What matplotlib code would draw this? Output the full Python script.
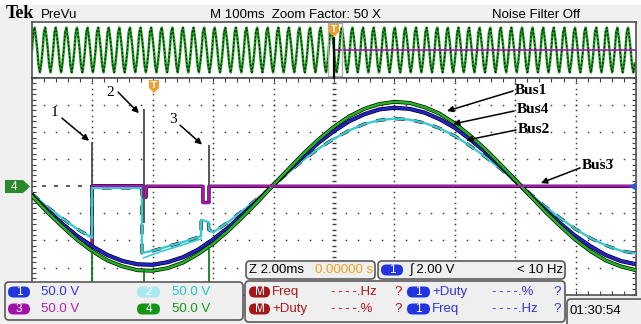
import matplotlib
matplotlib.use("Agg")
import matplotlib.pyplot as plt
from matplotlib.patches import FancyBboxPatch, Polygon, Rectangle
import numpy as np

# zoomed window: 2 ms/div, 50 V/div
time_ms = [0.0, 0.5, 1.0, 1.5, 2.0, 2.5, 3.0, 3.5, 4.0, 4.5, 5.0, 5.5, 6.0, 6.5,
           7.0, 7.5, 8.0, 8.5, 9.0, 9.5, 10.0, 10.5, 11.0, 11.5, 12.0, 12.5, 13.0,
           13.5, 14.0, 14.5, 15.0, 15.5, 16.0, 16.5, 17.0, 17.5, 18.0, 18.5, 19.0,
           19.5, 20.0]
bus1_v = [-18, -47, -74, -99, -120, -137, -148, -155, -156, -151, -141, -125, -106,
          -82, -55, -27, 3, 32, 61, 87, 110, 129, 143, 152, 156, 154, 146, 134, 116,
          94, 69, 41, 12, -18, -47, -74, -99, -120, -137, -148, -155]
bus4_v = [-17, -44, -69, -92, -111, -127, -138, -144, -145, -140, -131, -117, -98,
          -76, -51, -25, 3, 30, 56, 81, 102, 120, 133, 142, 145, 143, 136, 124, 108,
          87, 64, 38, 11, -17, -44, -69, -92, -111, -127, -138, -144]
bus2_t = [0.0, 0.5, 1.0, 1.5, 1.99, 1.99, 3.64, 3.64, 4.0, 4.5, 5.0, 5.6, 5.6, 5.85,
          5.85, 6.0, 6.5, 7.0, 7.5, 8.0, 8.5, 9.0, 9.5, 10.0, 10.5, 11.0, 11.5, 12.0,
          12.5, 13.0, 13.5, 14.0, 14.5, 15.0, 15.5, 16.0, 16.5, 17.0, 17.5, 18.0,
          18.5, 19.0, 19.5, 20.0]
bus2_v = [-14, -38, -59, -79, -95, -3, -3, -123, -119, -111, -103, -92, -62, -66,
          -80, -85, -66, -44, -21, 2, 26, 49, 70, 88, 103, 115, 122, 125, 123, 117,
          107, 93, 75, 55, 33, 9, -14, -38, -59, -79, -96, -109, -119, -124]
bus2_echo_t = [3.7, 4.3, 5.0, 5.6]
bus2_echo_v = [-132, -120, -108, -97]
bus3_t = [0.0, 0.5, 1.0, 1.5, 1.99, 1.99, 3.68, 3.68, 3.78, 3.78, 5.66, 5.66, 5.86,
          5.86, 20.0]
bus3_v = [-16, -43, -69, -92, -110, 1, 1, -20, -20, 0, 0, -30, -30, 0, 0]

spike_t = [1.99, 3.71, 5.86]
spike_top = [81, 142, 77]
spike_bottom = [0, -67, 0]
bus1_spike_top = [-120, -153, -112]
bus1_spike_bottom = [-178, -178, -200]

# one period of the compressed record in the top strip, repeated over the record
strip_cycle = [0.0, 0.8, 1.0, 0.55, 0.0, -0.7, -1.0, -0.6]
strip_cycles = 57

GREEN = "#22b522"
BLUE = "#2222cc"
CYAN = "#3cc8cf"
MAGENTA = "#b010bb"
EDGE = "#505050"
UI_FONT = ["Liberation Sans Narrow", "Liberation Sans", "DejaVu Sans"]
SERIF = ["Liberation Serif", "DejaVu Serif"]
NO_VALUE = "-\u2009-\u2009-\u2009-"

fig = plt.figure(figsize=(6.41, 3.24), dpi=100)
fig.patch.set_facecolor("#f0f0f0")

# ---- top record strip
ax_s = fig.add_axes([32 / 641, 1 - 78 / 324, 604 / 641, 56 / 324])
ax_s.set_facecolor("white")
strip_y = np.tile(strip_cycle, strip_cycles)
strip_x = np.arange(len(strip_y)) / len(strip_cycle)
ax_s.plot(strip_x, strip_y, color="#1e9e1e", lw=1.8)
ax_s.plot(strip_x, strip_y, color="black", lw=0.8, ls=(0, (1.5, 2)))
ax_s.plot([strip_cycles / 2, strip_cycles], [0, 0], color=MAGENTA, lw=1.2)
ax_s.set_xlim(0, strip_cycles)
ax_s.set_ylim(-1.25, 1.25)
ax_s.set_xticks([])
ax_s.set_yticks([])
for sp in ax_s.spines.values():
    sp.set_color(EDGE)
    sp.set_linewidth(1.2)

# ---- main zoomed window
ax = fig.add_axes([32 / 641, 1 - 294.6 / 324, 604 / 641, 216.6 / 324])
ax.set_facecolor("white")
ax.set_xlim(0, 20)
ax.set_ylim(-200, 200)
ax.set_xticks(np.arange(0, 20.01, 0.4))
ax.set_yticks(np.arange(-200, 201, 10))
ax.tick_params(direction="in", length=3, width=0.8, color="#404040",
               top=True, bottom=True, left=True, right=True,
               labelbottom=False, labelleft=False)
for sp in ax.spines.values():
    sp.set_color(EDGE)
    sp.set_linewidth(1.2)

dot_v = np.arange(-190, 191, 10)
dot_t = np.arange(0.4, 20, 0.4)
for tx in [2, 4, 6, 8, 12, 14, 16, 18]:
    ax.plot(np.full(len(dot_v), tx), dot_v, ls="none", marker="s", ms=1.1,
            mew=0, color="#404040", zorder=1)
for vy in [-150, -100, -50, 50, 100, 150]:
    ax.plot(dot_t, np.full(len(dot_t), vy), ls="none", marker="s", ms=1.1,
            mew=0, color="#404040", zorder=1)
ax.plot(dot_t, np.zeros(len(dot_t)), ls="none", marker="_", ms=3, mew=1.2,
        color="#404040", zorder=1)
ax.plot(np.full(len(dot_v), 10), dot_v, ls="none", marker="_", ms=3.5, mew=1.0,
        color="#404040", zorder=1)

# traces: each one carries a dark persistence edge
ax.plot(bus3_t, bus3_v, color="black", lw=2.4, zorder=2)
ax.plot(bus3_t, bus3_v, color=MAGENTA, lw=1.6, zorder=2.1)
ax.plot(bus2_echo_t, bus2_echo_v, color=CYAN, lw=1.2, zorder=3)
ax.plot(bus2_t, bus2_v, color="black", lw=2.3, ls=(0, (3, 3)), zorder=3)
ax.plot(bus2_t, bus2_v, color=CYAN, lw=1.7, zorder=3.1)
ax.plot(time_ms, bus4_v, color="black", lw=3.0, zorder=4)
ax.plot(time_ms, bus4_v, color=BLUE, lw=2.0, zorder=4.1)
ax.plot(time_ms, bus1_v, color="black", lw=2.8, zorder=5)
ax.plot(time_ms, bus1_v, color=GREEN, lw=1.8, zorder=5.1)
ax.plot(bus3_t[5:], bus3_v[5:], color=MAGENTA, lw=1.5, zorder=6)
ax.vlines(spike_t, spike_bottom, spike_top, color="#4a4a4a", lw=1.3, zorder=7)
ax.vlines(spike_t, bus1_spike_bottom, bus1_spike_top, color="#1a7a1a", lw=1.3, zorder=7)

arrow = dict(arrowstyle="-|>", color="black", lw=1.1, mutation_scale=9,
             shrinkA=0, shrinkB=0)
for lab, (tx, ty), tail, head in [
        ("1", (0.76, 137), (0.99, 126), (1.89, 84)),
        ("2", (2.58, 174), (2.85, 174), (3.54, 135)),
        ("3", (4.67, 124), (4.90, 113), (5.63, 77))]:
    ax.text(tx, ty, lab, fontsize=11, family=SERIF, ha="center", va="center", zorder=8)
    ax.annotate("", xy=head, xytext=tail, arrowprops=arrow, zorder=8)

for lab, pos, tail, head in [
        ("Bus1", (15.99, 177), (15.93, 176), (13.74, 139)),
        ("Bus4", (16.06, 141), (15.96, 139), (13.94, 115)),
        ("Bus2", (16.09, 104), (16.03, 104), (14.37, 85)),
        ("Bus3", (18.21, 39), (18.15, 34), (16.85, 6))]:
    ax.text(pos[0], pos[1], lab, fontsize=11, family=SERIF, weight="bold",
            ha="left", va="center", zorder=8)
    ax.annotate("", xy=head, xytext=tail, arrowprops=arrow, zorder=8)

# ---- screen furniture in pixel coordinates
ov = fig.add_axes([0, 0, 1, 1], zorder=10)
ov.set_xlim(0, 641)
ov.set_ylim(324, 0)
ov.axis("off")
ov.patch.set_alpha(0)

ov.add_patch(Rectangle((0, 0), 641, 5, fc="white", ec="none"))
ov.text(6, 14, "Tek", family=SERIF, weight="bold", fontsize=13, va="center")
ov.text(41, 14.5, "PreVu", family=UI_FONT, fontsize=9.5, va="center")
ov.text(210, 14.5, "M 100ms  Zoom Factor: 50 X", family=UI_FONT, fontsize=9.5, va="center")
ov.text(492, 14.5, "Noise Filter Off", family=UI_FONT, fontsize=9.5, va="center")

# zoom window and trigger markers
ov.add_patch(Rectangle((328, 23), 14, 53, fc="none", ec="#b0b0b0", lw=1))
ov.plot([334, 334], [38, 78], color="black", lw=1.6)
for (mx, my) in [(334, 24), (154, 80)]:
    ov.add_patch(Polygon([(mx - 5, my), (mx + 5, my), (mx + 5, my + 8),
                          (mx, my + 13), (mx - 5, my + 8)],
                         fc="#f0a030", ec="none"))
    ov.text(mx, my + 6, "T", color="white", fontsize=6, weight="bold",
            ha="center", va="center")

ov.add_patch(Polygon([(5, 180), (23, 180), (30, 186.5), (23, 193), (5, 193)],
                     fc="#2a8a2a", ec="none"))
ov.text(14, 186.5, "4", color="white", fontsize=8.5, family=UI_FONT,
        ha="center", va="center")
ov.add_patch(Polygon([(629, 186.5), (636, 182.5), (636, 190.5)], fc="#3050e0", ec="none"))


def panel(x0, y0, x1, y1):
    ov.add_patch(FancyBboxPatch((x0, y0), x1 - x0, y1 - y0,
                                boxstyle="round,pad=0,rounding_size=4",
                                fc="#efefef", ec="#5a5a5a", lw=1.2))


def badge(x0, x1, yc, label, fc, tc="white"):
    ov.add_patch(FancyBboxPatch((x0, yc - 5.5), x1 - x0, 11,
                                boxstyle="round,pad=0,rounding_size=5.5",
                                fc=fc, ec="none"))
    ov.text((x0 + x1) / 2, yc, label, color=tc, fontsize=8.5, family=UI_FONT,
            ha="center", va="center")


def label(x, y, s, color, ha="left"):
    ov.text(x, y, s, color=color, fontsize=9.5, family=UI_FONT, ha=ha, va="center")


panel(5, 282, 243, 320)
badge(8, 30, 292, "1", "#2233e0")
label(41, 292, "50.0 V", "#3333dd")
badge(137, 160, 292, "2", "#a8e8ee")
label(172, 292, "50.0 V", "#22c4cc")
badge(8, 30, 309, "3", "#a012a8")
label(41, 309, "50.0 V", "#b020b0")
badge(137, 160, 309, "4", "#159515")
label(172, 309, "50.0 V", "#139a13")

panel(246, 261, 375, 279)
label(249, 270, "Z 2.00ms", "black")
label(373, 270, "0.00000 s", "#f0a020", ha="right")
panel(378, 261, 565, 279)
badge(381, 403, 270, "1", "#2233e0")
label(410, 270, "\u222b 2.00 V", "black")
label(563, 270, "< 10 Hz", "black", ha="right")

panel(245, 281, 565, 322)
RED = "#b01515"
MBLUE = "#3333dd"
for yc, left_name, left_val, right_name, right_val in [
        (292, "Freq", NO_VALUE + ".Hz", "+Duty", NO_VALUE + ".%"),
        (309, "+Duty", NO_VALUE + ".%", "Freq", NO_VALUE + ".Hz")]:
    badge(249, 270, yc, "M", "#a01818")
    label(272, yc, left_name, RED)
    label(331, yc, left_val, RED)
    label(394, yc, "?", RED)
    badge(407, 430, yc, "1", "#2233e0")
    label(432, yc, right_name, MBLUE)
    label(492, yc, right_val, MBLUE)
    label(553, yc, "?", MBLUE)

panel(567, 299, 645, 328)
label(569, 311, "01:30:54", "black")

fig.savefig("out.png", dpi=100, facecolor=fig.get_facecolor())
